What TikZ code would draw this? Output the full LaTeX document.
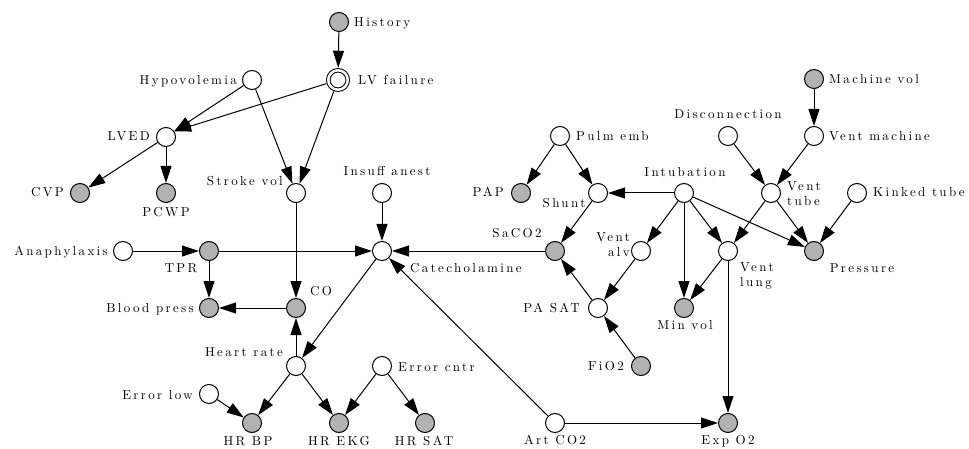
\documentclass[tikz,border=0pt]{standalone}
\usepackage{fontspec}
\newfontfamily\lblfont{lmroman10-regular.otf}[LetterSpace=18]
\usetikzlibrary{arrows.meta}
\definecolor{obsgray}{RGB}{178,178,178}
\begin{document}
\begin{tikzpicture}[x=1pt,y=-1pt,
  hid/.style={circle,draw,line width=1pt,fill=white,minimum size=19pt,inner sep=0pt},
  obs/.style={hid,fill=obsgray},
  lbl/.style={font={\lblfont\fontsize{13}{15}\selectfont},inner sep=0pt,text height=9pt,text depth=2.5pt},
  lblm/.style={font={\lblfont\fontsize{13}{15}\selectfont},inner sep=0pt},
  arr/.style={line width=1pt,-{Triangle[length=17pt,width=11pt]}}]
\useasboundingbox (0,0) rectangle (969,449);
% nodes
\node[obs] (hist) at (339,22) {};
\node[hid,double,double distance=2.5pt,minimum size=19.5pt,outer sep=2.5pt] (lvf) at (338,80) {};
\node[hid] (hypo) at (252,80) {};
\node[hid] (lved) at (166,137) {};
\node[obs] (cvp) at (80,193) {};
\node[obs] (pcwp) at (166,193) {};
\node[hid] (sv) at (296,193) {};
\node[hid] (ia) at (382,193) {};
\node[hid] (ana) at (123,251) {};
\node[obs] (tpr) at (209,251) {};
\node[hid] (cat) at (382,251) {};
\node[obs] (bp) at (209,308) {};
\node[obs] (co) at (296,308) {};
\node[hid] (hr) at (296,366) {};
\node[hid] (ec) at (382,366) {};
\node[hid] (el) at (209,394) {};
\node[obs] (hrbp) at (252,423) {};
\node[obs] (hrekg) at (339,423) {};
\node[obs] (hrsat) at (425,423) {};
\node[hid] (aco2) at (555,423) {};
\node[obs] (eo2) at (728,423) {};
\node[hid] (pe) at (560,136) {};
\node[obs] (pap) at (521,193) {};
\node[hid] (shunt) at (598,193) {};
\node[hid] (intu) at (684,193) {};
\node[hid] (disc) at (728,136) {};
\node[hid] (vm) at (814,136) {};
\node[obs] (mv) at (814,79) {};
\node[hid] (vt) at (771,193) {};
\node[hid] (kt) at (857,193) {};
\node[obs] (saco2) at (555,251) {};
\node[hid] (valv) at (641,251) {};
\node[hid] (vl) at (728,251) {};
\node[obs] (press) at (814,251) {};
\node[hid] (pasat) at (598,308) {};
\node[obs] (minvol) at (684,308) {};
\node[obs] (fio2) at (641,366) {};
% labels
\node[lbl,anchor=west] (l-hist) at (354,23) {History};
\node[lbl,anchor=east] (l-hypo) at (237,81) {Hypovolemia};
\node[lbl,anchor=west] (l-lvf) at (358,81) {LV failure};
\node[lbl,anchor=east] (l-lved) at (150,137) {LVED};
\node[lbl,anchor=east] (l-cvp) at (64,193) {CVP};
\node[lbl] (l-pcwp) at (166,213) {PCWP};
\node[lbl,anchor=east] (l-sv) at (283,182) {Stroke vol};
\node[lbl] (l-ia) at (387,172) {Insuff anest};
\node[lbl,anchor=west] (l-mv) at (829,80) {Machine vol};
\node[lbl] (l-disc) at (728,115) {Disconnection};
\node[lbl,anchor=west] (l-pe) at (576,137) {Pulm emb};
\node[lbl,anchor=west] (l-vm) at (829,137) {Vent machine};
\node[lbl] (l-intu) at (685,173) {Intubation};
\node[lbl,anchor=east] (l-pap) at (504,193) {PAP};
\node[lbl] (l-shunt) at (564,204) {Shunt};
\node[lblm,anchor=west,align=left] (l-vt) at (787,194) {Vent\\tube};
\node[lbl,anchor=west] (l-kt) at (873,193) {Kinked tube};
\node[lbl,anchor=east] (l-ana) at (108,252) {Anaphylaxis};
\node[lbl] (l-tpr) at (181,269) {TPR};
\node[lbl,anchor=west] (l-cat) at (410,269) {Catecholamine};
\node[lbl,anchor=east] (l-bp) at (194,309) {Blood press};
\node[lbl] (l-co) at (321,292) {CO};
\node[lbl,anchor=east] (l-hr) at (283,353) {Heart rate};
\node[lbl,anchor=west] (l-ec) at (398,368) {Error cntr};
\node[lbl,anchor=east] (l-el) at (193,396) {Error low};
\node[lbl] (l-hrbp) at (248,442) {HR BP};
\node[lbl] (l-hrekg) at (339,442) {HR EKG};
\node[lbl] (l-hrsat) at (424,442) {HR SAT};
\node[lbl] (l-saco2) at (517,234) {SaCO2};
\node[lblm,anchor=east,align=right] (l-valv) at (630,245) {Vent\\alv};
\node[lblm,anchor=west,align=left] (l-vl) at (740,276) {Vent\\lung};
\node[lbl] (l-press) at (862,269) {Pressure};
\node[lbl,anchor=east] (l-pasat) at (580,309) {PA SAT};
\node[lbl] (l-minvol) at (685,326) {Min vol};
\node[lbl,anchor=east] (l-fio2) at (624,367) {FiO2};
\node[lbl] (l-aco2) at (555,441) {Art CO2};
\node[lbl] (l-eo2) at (728,441) {Exp O2};
% edges
\draw[arr] (hist) -- (lvf);
\draw[arr] (hypo) -- (lved.35);
\draw[arr] (hypo) -- (sv);
\draw[arr] (lvf) -- (lved.35);
\draw[arr] (lvf) -- (sv);
\draw[arr] (lved) -- (cvp);
\draw[arr] (lved) -- (pcwp);
\draw[arr] (sv) -- (co);
\draw[arr] (ia) -- (cat);
\draw[arr] (ana) -- (tpr);
\draw[arr] (tpr) -- (cat);
\draw[arr] (tpr) -- (bp);
\draw[arr] (co) -- (bp);
\draw[arr] (hr) -- (co);
\draw[arr] (cat) -- (hr);
\draw[arr] (hr) -- (hrbp);
\draw[arr] (hr) -- (hrekg);
\draw[arr] (el) -- (hrbp);
\draw[arr] (ec) -- (hrekg);
\draw[arr] (ec) -- (hrsat);
\draw[arr] (saco2) -- (cat);
\draw[arr] (aco2) -- (cat);
\draw[arr] (aco2) -- (eo2);
\draw[arr] (pe) -- (pap);
\draw[arr] (pe) -- (shunt);
\draw[arr] (intu) -- (shunt);
\draw[arr] (shunt) -- (saco2);
\draw[arr] (intu) -- (valv);
\draw[arr] (intu) -- (minvol);
\draw[arr] (intu) -- (vl);
\draw[arr] (intu) -- (press);
\draw[arr] (disc) -- (vt);
\draw[arr] (mv) -- (vm);
\draw[arr] (vm) -- (vt);
\draw[arr] (vt) -- (vl);
\draw[arr] (vt) -- (press);
\draw[arr] (kt) -- (press);
\draw[arr] (valv) -- (pasat);
\draw[arr] (pasat) -- (saco2);
\draw[arr] (fio2) -- (pasat);
\draw[arr] (vl) -- (minvol);
\draw[arr] (vl) -- (eo2);
\end{tikzpicture}
\end{document}
